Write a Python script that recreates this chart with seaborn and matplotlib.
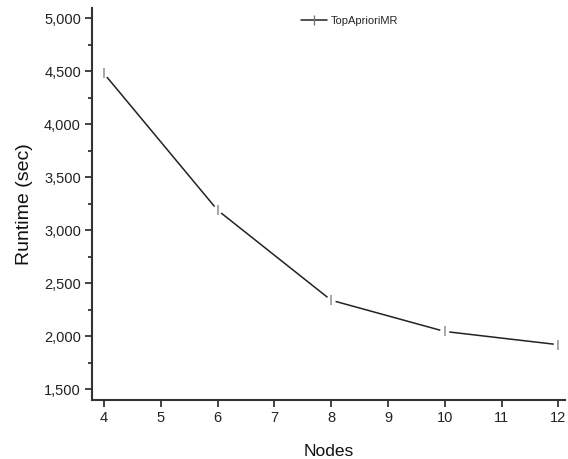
import matplotlib
matplotlib.use("Agg")
import matplotlib.pyplot as plt
import seaborn as sns
import pandas as pd
from matplotlib.ticker import MultipleLocator, FuncFormatter
from matplotlib.lines import Line2D

nodes = [4, 6, 8, 10, 12]
runtime = [4480, 3190, 2340, 2045, 1920]
series_name = "TopAprioriMR"

sns.set_theme(style="ticks")
plt.rcParams['font.family'] = ['Liberation Sans', 'DejaVu Sans']

df = pd.DataFrame({"Nodes": nodes, "Runtime": runtime})

fig = plt.figure(figsize=(5.68, 4.59), dpi=100)
ax = fig.add_axes([0.162, 0.129, 0.833, 0.854])

sns.lineplot(data=df, x="Nodes", y="Runtime", ax=ax, color="#222222", linewidth=1.1,
             legend=False, zorder=2)
# white gap around each symbol
sns.scatterplot(data=df, x="Nodes", y="Runtime", ax=ax, marker="o", s=45,
                color="white", edgecolor="none", linewidth=0, zorder=3, legend=False)
sns.scatterplot(data=df, x="Nodes", y="Runtime", ax=ax, marker="|", s=50,
                color="#9a9a9a", linewidth=1.2, zorder=4, legend=False)

ax.set_xlim(3.79, 12.12)
ax.set_ylim(1400, 5100)
ax.xaxis.set_major_locator(MultipleLocator(1))
ax.yaxis.set_major_locator(MultipleLocator(500))
ax.yaxis.set_minor_locator(MultipleLocator(250))
ax.yaxis.set_major_formatter(FuncFormatter(lambda v, p: f"{int(v):,}"))
ax.tick_params(axis="both", which="major", direction="out", length=5, width=1.2, labelsize=10.5, colors="#222222", pad=3)
ax.tick_params(axis="y", which="minor", direction="out", length=3, width=1.2, colors="#222222")

for s in ["top", "right"]:
    ax.spines[s].set_visible(False)
for s in ["left", "bottom"]:
    ax.spines[s].set_linewidth(1.5)
    ax.spines[s].set_color("#333333")

ax.set_xlabel("Nodes", fontsize=12.5, labelpad=14, color="#111111")
ax.set_ylabel("Runtime (sec)", fontsize=14, labelpad=8, color="#111111")

handle = Line2D([], [], color="#222222", linewidth=1.1, marker="|", markersize=7,
                markeredgecolor="#777777", markeredgewidth=1.0)
ax.legend([handle], [series_name], loc="upper center", bbox_to_anchor=(0.545, 1.005),
          frameon=False, fontsize=8, handlelength=2.3, handletextpad=0.4)

fig.savefig("out.png", dpi=100)
